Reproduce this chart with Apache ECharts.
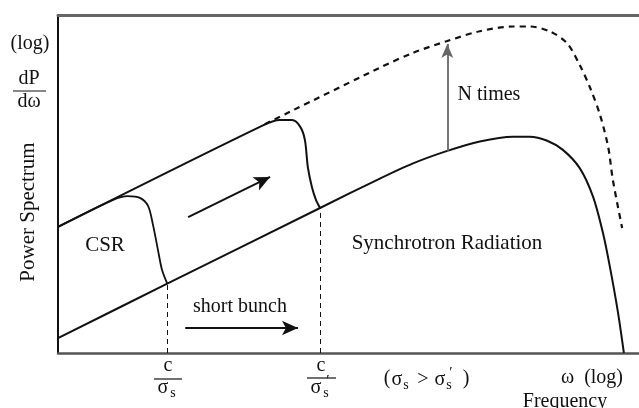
<!DOCTYPE html>
<html>
<head>
<meta charset="utf-8">
<script src="https://cdn.jsdelivr.net/npm/echarts@6/dist/echarts.min.js"></script>
<style>
html,body{margin:0;padding:0;background:#fff;}
#chart{width:639px;height:408px;}
</style>
</head>
<body>
<div id="chart"></div>
<script>
// Abstract log-log units: x = log frequency (0..100), y = log power (0..100)
const lowerX = [0, 18.8, 45.1, 55.4, 61.1, 67.0, 72.6, 78.3, 81.2, 84.2, 86.9, 89.8, 92.1, 93.8, 95.0, 96.4, 97.4];
const lowerY = [4.4, 20.5, 42.9, 51.6, 56.1, 59.8, 62.6, 64.0, 64.0, 62.8, 60.1, 54.7, 46.2, 35.5, 25.4, 11.8, 0];

const dashedX = [35.6, 55.4, 61.1, 67.0, 72.6, 78.3, 81.2, 84.7, 87.6, 89.8, 91.6, 93.3, 94.7, 95.5, 97.1];
const dashedY = [67.7, 84.4, 88.8, 92.3, 95.2, 96.6, 96.6, 95.1, 91.7, 85.2, 78.4, 70.4, 60.9, 51.2, 37.0];

const csr1X = [0, 9.5, 12.0, 14.1, 15.5, 16.35, 17.2, 17.9, 18.8];
const csr1Y = [37.3, 45.3, 46.4, 45.9, 43.5, 37.9, 30.5, 24.6, 20.5];

const csr2X = [0, 35.1, 38.2, 40.3, 41.7, 42.5, 43.0, 43.7, 44.4, 45.1];
const csr2Y = [37.3, 67.2, 68.9, 68.9, 66.9, 63.0, 55.0, 49.1, 45.3, 42.9];

const arrowMain = [[22.4, 40.2], [36.5, 52.1]];
const arrowShort = [[21.9, 7.4], [41.3, 7.4]];
const arrowN = [[67.0, 59.8], [67.0, 91.4]];

const cutoffX = [18.8, 45.1];
const cutoffY = [20.5, 42.9];

const zip = (xs, ys) => xs.map((x, i) => [x, ys[i]]);
const FONT = '"Liberation Serif", "DejaVu Serif", serif';
const INK = '#111';

function T(text, x, y, size, extra) {
  return Object.assign({
    type: 'text', x: x, y: y, silent: true,
    style: Object.assign({ text: text, fontSize: size || 20, fontFamily: FONT, fill: INK,
      align: 'center', verticalAlign: 'middle' }, (extra && extra.style) || {})
  }, extra && extra.rotation !== undefined ? { rotation: extra.rotation } : {});
}
function L(x1, y1, x2, y2, w) {
  return { type: 'line', silent: true, shape: { x1: x1, y1: y1, x2: x2, y2: y2 },
    style: { stroke: INK, lineWidth: w || 1.2 } };
}

const chart = echarts.init(document.getElementById('chart'), null, { renderer: 'canvas' });
const hidden = { axisTick: { show: false }, axisLabel: { show: false }, splitLine: { show: false } };

const lineBase = { type: 'line', showSymbol: false, symbol: 'none', smooth: 0.3,
  silent: true, animation: false };

chart.setOption({
  animation: false,
  backgroundColor: '#fff',
  grid: { left: 58, right: 0, top: 15, bottom: 55 },
  xAxis: [
    Object.assign({ type: 'value', min: 0, max: 100, position: 'bottom',
      axisLine: { show: true, onZero: false, lineStyle: { color: '#555', width: 2.5 } } }, hidden),
    Object.assign({ type: 'value', min: 0, max: 100, position: 'top',
      axisLine: { show: true, onZero: false, lineStyle: { color: '#666', width: 3 } } }, hidden)
  ],
  yAxis: Object.assign({ type: 'value', min: 0, max: 100,
    axisLine: { show: true, onZero: false, lineStyle: { color: INK, width: 2 } } }, hidden),
  series: [
    Object.assign({}, lineBase, { name: 'Synchrotron', data: zip(lowerX, lowerY),
      lineStyle: { color: INK, width: 2 },
      markLine: {
        silent: true, symbol: ['none', 'none'], label: { show: false },
        lineStyle: { color: INK, width: 1, type: [5, 4] },
        data: cutoffX.map((x, i) => [{ coord: [x, 0] }, { coord: [x, cutoffY[i]] }])
      } }),
    Object.assign({}, lineBase, { name: 'N x', data: zip(dashedX, dashedY),
      lineStyle: { color: INK, width: 2.2, type: [6, 5] } }),
    Object.assign({}, lineBase, { name: 'CSR sigma', data: zip(csr1X, csr1Y),
      lineStyle: { color: INK, width: 1.8 } }),
    Object.assign({}, lineBase, { name: 'CSR sigma prime', data: zip(csr2X, csr2Y),
      lineStyle: { color: INK, width: 2 } }),
    {
      type: 'line', data: [], silent: true,
      markLine: {
        silent: true, symbol: ['none', 'arrow'], symbolSize: [11, 16], label: { show: false },
        lineStyle: { color: INK, width: 2, type: 'solid' },
        data: [
          [{ coord: arrowMain[0] }, { coord: arrowMain[1] }],
          [{ coord: arrowShort[0] }, { coord: arrowShort[1] }]
        ]
      }
    },
    {
      type: 'line', data: [], silent: true,
      markLine: {
        silent: true, symbol: ['none', 'arrow'], symbolSize: [9, 14], label: { show: false },
        lineStyle: { color: '#666', width: 1.8, type: 'solid' },
        data: [[{ coord: arrowN[0] }, { coord: arrowN[1] }]]
      }
    }
  ],
  graphic: [
    T('(log)', 30, 44, 20),
    T('dP', 29, 79, 20),
    L(13, 91, 46, 91, 1.2),
    T('dω', 29, 102, 20),
    T('Power Spectrum', 28, 212, 21, { rotation: Math.PI / 2 }),
    T('CSR', 105, 245, 21),
    T('short bunch', 240, 307, 20),
    T('Synchrotron Radiation', 447, 243, 21),
    T('N times', 489, 95, 20),
    // c / sigma_s
    T('c', 168, 366, 20),
    L(154, 379, 182, 379, 1.2),
    T('σ', 163, 388, 20),
    T('s', 173, 393, 14),
    // c / sigma_s'
    T('c', 321, 366, 20),
    L(307, 378, 336, 378, 1.2),
    T('σ', 316, 388, 20),
    T('s', 326, 393, 14),
    T('′', 328, 381, 15),
    // (sigma_s > sigma_s')
    T('(', 387, 379, 20),
    T('σ', 397, 380, 20),
    T('s', 406, 385, 14),
    T('>', 423, 380, 20),
    T('σ', 440, 380, 20),
    T('s', 449, 385, 14),
    T('′', 451, 373, 15),
    T(')', 466, 379, 20),
    T('ω  (log)', 592, 378, 20),
    T('Frequency', 565, 402, 20)
  ]
});
</script>
</body>
</html>
